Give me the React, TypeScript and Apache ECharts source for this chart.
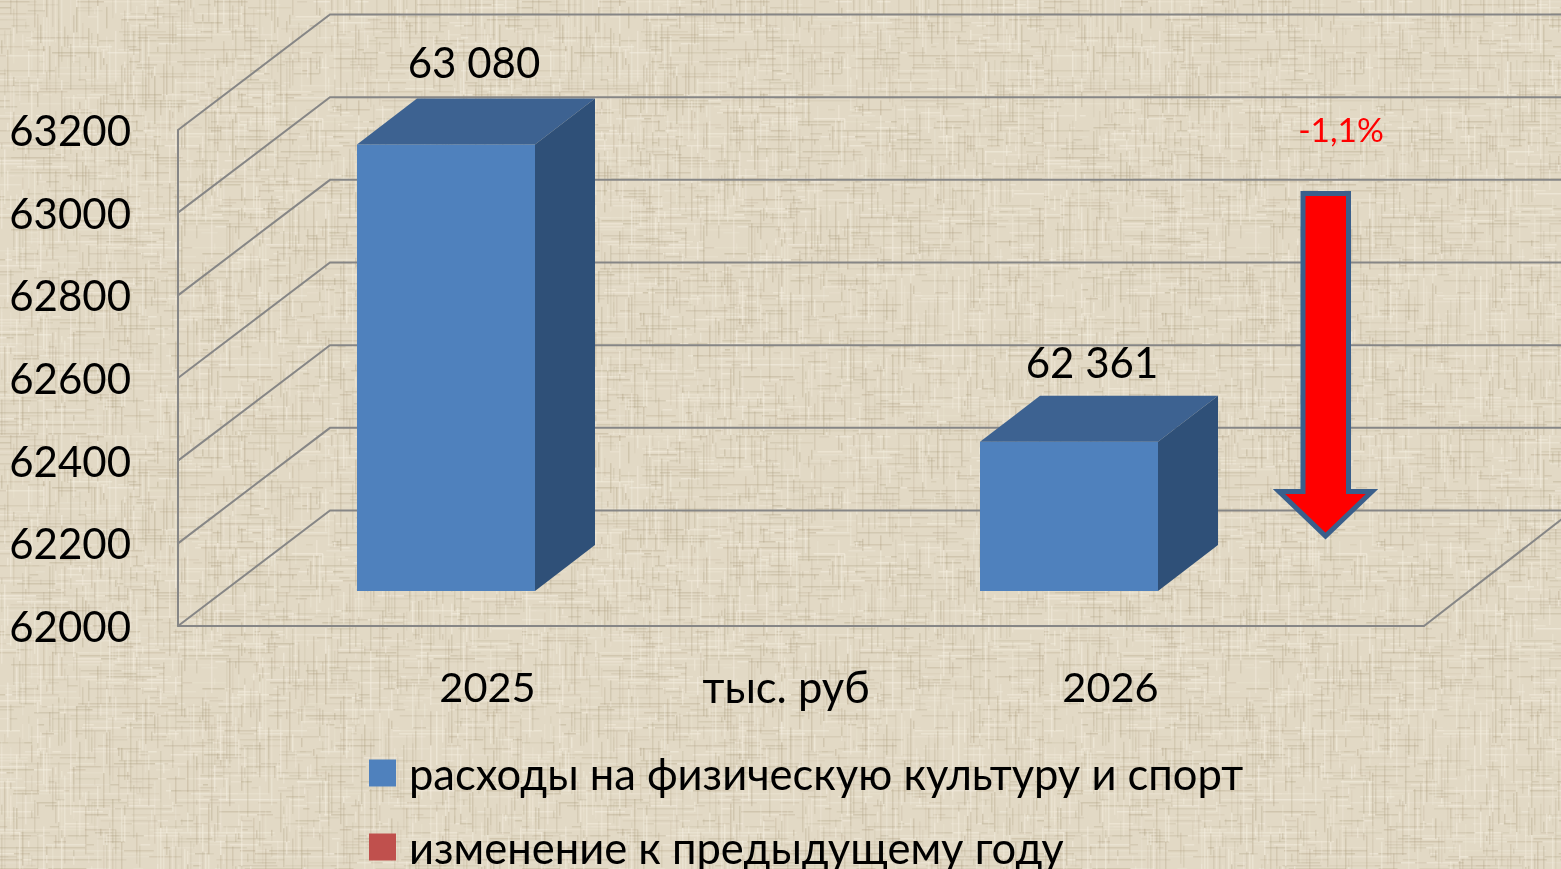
import React, { useEffect, useRef } from "react";
import * as echarts from "echarts";

const categories = ["2025", "2026"];
const spending = [63080, 62361];
const yTicks = [62000, 62200, 62400, 62600, 62800, 63000, 63200];
const seriesNames = ["расходы на физическую культуру и спорт", "изменение к предыдущему году"];
const axisTitle = "тыс. руб";
const changeLabel = "-1,1%";

const FONT = "Lato, 'Noto Sans', sans-serif";
const W = 1561;
const H = 869;

function paintTexture(canvas: HTMLCanvasElement) {
  const TW = 522;
  const TH = 435;
  const tile = document.createElement("canvas");
  tile.width = TW;
  tile.height = TH;
  const ctx = tile.getContext("2d")!;
  let s = 20260;
  const rnd = () => ((s = (s * 1664525 + 1013904223) >>> 0) / 4294967296);
  ctx.fillStyle = "#E2D9C5";
  ctx.fillRect(0, 0, TW, TH);
  const thread = (horizontal: boolean, pos: number, end: number) => {
    let t = 0;
    while (t < end) {
      const len = 5 + rnd() * rnd() * 60;
      const r = rnd();
      if (r < 0.28) {
        ctx.fillStyle = `rgba(165,150,118,${0.08 + rnd() * 0.22})`;
      } else if (r < 0.46) {
        ctx.fillStyle = `rgba(246,240,226,${0.15 + rnd() * 0.38})`;
      } else {
        t += len;
        continue;
      }
      if (horizontal) ctx.fillRect(t, pos, len, 1.5);
      else ctx.fillRect(pos, t, 1.5, len);
      t += len;
    }
  };
  for (let y = 1; y < TH; y += 3) thread(true, y, TW);
  for (let x = 1; x < TW; x += 3) thread(false, x, TH);
  const main = canvas.getContext("2d")!;
  for (let ty = 0; ty < H; ty += TH) {
    for (let tx = 0; tx < W; tx += TW) main.drawImage(tile, tx, ty);
  }
}

export default function App() {
  const chartRef = useRef<HTMLDivElement>(null);
  const bgRef = useRef<HTMLCanvasElement>(null);

  useEffect(() => {
    document.body.style.margin = "0";
    document.body.style.overflow = "hidden";
    paintTexture(bgRef.current!);
    const chart = echarts.init(chartRef.current!, undefined, { renderer: "svg", width: W, height: H });
    const lineStyle = { stroke: "#868686", lineWidth: 2, fill: "none" };
    chart.setOption({
      animation: false,
      backgroundColor: "transparent",
      grid: { left: 178, right: W - 1424, top: 130, bottom: H - 626, containLabel: false },
      legend: {
        show: true,
        orient: "vertical",
        left: 364,
        top: 743.5,
        height: 200,
        itemWidth: 27,
        itemHeight: 27,
        itemGap: 25,
        icon: "rect",
        selectedMode: false,
        textStyle: { fontFamily: FONT, fontSize: 43.5, color: "#000", padding: [0, 0, 5, 8], lineHeight: 44 },
        data: seriesNames,
      },
      xAxis: {
        type: "category",
        data: categories,
        name: axisTitle,
        nameLocation: "middle",
        nameGap: 60,
        nameMoveOverlap: false,
        nameTextStyle: { fontFamily: FONT, fontSize: 43.5, color: "#000", padding: [0, 30, 0, 0], verticalAlign: "middle" },
        axisLine: { show: true, lineStyle: { color: "#868686", width: 2 } },
        axisTick: { show: false },
        axisLabel: { fontFamily: FONT, fontSize: 41.5, color: "#000", margin: 38, lineHeight: 44, padding: [0, 4, 0, 0] },
        splitLine: { show: false },
      },
      yAxis: {
        type: "value",
        min: 62000,
        max: 63200,
        interval: 200,
        axisLine: { show: true, lineStyle: { color: "#868686", width: 2 } },
        axisTick: { show: false },
        axisLabel: { fontFamily: FONT, fontSize: 42, color: "#000", margin: 47, formatter: (v: number) => String(v) },
        splitLine: { show: false },
      },
      series: [
        {
          type: "custom",
          name: "walls",
          silent: true,
          z: 1,
          clip: false,
          encode: { y: 0 },
          data: yTicks.map((t) => [t]),
          renderItem: (_p: any, api: any) => {
            const v = api.value(0);
            const [, y] = api.coord([0, v]);
            const left = 178;
            const children: any[] = [
              {
                type: "polyline",
                shape: { points: [[left, y], [left + 152, y - 115.5], [1580, y - 115.5]] },
                style: lineStyle,
              },
            ];
            if (v === yTicks[0]) {
              children.push({
                type: "line",
                shape: { x1: 1424, y1: y, x2: 1580, y2: y - 121 },
                style: lineStyle,
              });
            }
            return { type: "group", children };
          },
        },
        {
          type: "custom",
          name: seriesNames[0],
          z: 3,
          clip: false,
          itemStyle: { color: "#4F81BD" },
          encode: { x: 0, y: 1 },
          data: spending.map((v, i) => [i, v]),
          renderItem: (_p: any, api: any) => {
            const i = api.value(0);
            const v = api.value(1);
            const top = api.coord([i, v]);
            const base = api.coord([i, 62000]);
            const shiftY = 35;
            const dx = 60;
            const dy = 46;
            const x0 = top[0] - 132.5;
            const x1 = x0 + 178;
            const yT = top[1] - shiftY;
            const yB = base[1] - shiftY;
            return {
              type: "group",
              children: [
                { type: "rect", shape: { x: x0, y: yT, width: x1 - x0, height: yB - yT }, style: { fill: "#4F81BD" } },
                {
                  type: "polygon",
                  shape: { points: [[x0, yT], [x1, yT], [x1 + dx, yT - dy], [x0 + dx, yT - dy]] },
                  style: { fill: "#3D6291" },
                },
                {
                  type: "polygon",
                  shape: { points: [[x1, yT], [x1 + dx, yT - dy], [x1 + dx, yB - dy], [x1, yB]] },
                  style: { fill: "#2F5078" },
                },
                {
                  type: "text",
                  x: x0 + 117 - i * 5,
                  y: yT - 83 + i * 3,
                  style: {
                    text: String(v).replace(/(\d{2})(\d{3})/, "$1 $2"),
                    fontFamily: FONT,
                    fontSize: 42,
                    fill: "#000",
                    align: "center",
                    verticalAlign: "middle",
                  },
                },
              ],
            };
          },
        },
        {
          type: "custom",
          name: seriesNames[1],
          itemStyle: { color: "#C0504D" },
          data: [],
          renderItem: () => null,
        },
      ],
      graphic: [
        {
          type: "polygon",
          z: 10,
          shape: {
            points: [
              [1303, 193.5], [1348.5, 193.5], [1348.5, 491.5], [1372, 491.5],
              [1325.5, 536], [1279, 491.5], [1303, 491.5],
            ],
          },
          style: { fill: "#FF0000", stroke: "#3A5F8B", lineWidth: 5, lineJoin: "miter" },
        },
        {
          type: "text",
          z: 10,
          x: 1341,
          y: 129,
          style: {
            text: changeLabel,
            fontFamily: FONT,
            fontSize: 33.5,
            fill: "#FF0000",
            align: "center",
            verticalAlign: "middle",
          },
        },
      ],
    });
    return () => chart.dispose();
  }, []);

  return (
    <div style={{ position: "relative", width: W, height: H, overflow: "hidden" }}>
      <canvas ref={bgRef} width={W} height={H} style={{ position: "absolute", left: 0, top: 0, filter: "blur(0.6px)" }} />
      <div ref={chartRef} style={{ position: "absolute", left: 0, top: 0, width: W, height: H }} />
    </div>
  );
}
